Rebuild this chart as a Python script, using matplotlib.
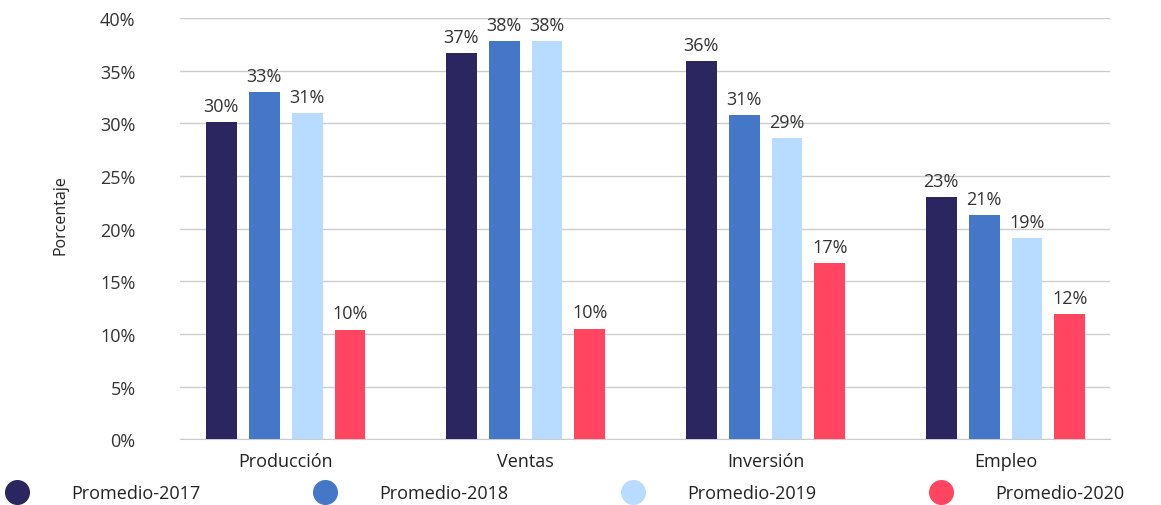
import numpy as np
import matplotlib.pyplot as plt
from matplotlib.ticker import FuncFormatter

plt.rcParams['font.family'] = ['Open Sans', 'DejaVu Sans']

## the data
categories = ['Producción', 'Ventas', 'Inversión', 'Empleo']
series_names = ['Promedio-2017', 'Promedio-2018', 'Promedio-2019', 'Promedio-2020']
prom_2017 = [30.1, 36.7, 35.9, 23.0]
prom_2018 = [33.0, 37.8, 30.8, 21.3]
prom_2019 = [31.0, 37.8, 28.6, 19.1]
prom_2020 = [10.4, 10.5, 16.7, 11.9]
colors = ['#2b2560', '#4577c9', '#b7dcff', '#ff4560']

series = [prom_2017, prom_2018, prom_2019, prom_2020]

fig = plt.figure(figsize=(11.61, 5.06), dpi=100)
ax = fig.add_axes([0.155, 0.130, 0.801, 0.832])

ind = np.arange(len(categories))
width = 0.129
step = 0.179

for i, (vals, name, c) in enumerate(zip(series, series_names, colors)):
    xs = ind + (i - 1.5) * step
    rects = ax.bar(xs, vals, width, color=c, label=name, zorder=3)
    for r, v in zip(rects, vals):
        ax.text(r.get_x() + r.get_width() / 2, v + 0.7, '%d%%' % round(v),
                ha='center', va='bottom', fontsize=13, color='#333333')

# axes and labels
ax.set_xlim(-0.44, 3.435)
ax.set_ylim(0, 40)
ax.set_yticks(np.arange(0, 41, 5))
ax.yaxis.set_major_formatter(FuncFormatter(lambda v, p: '%d%%' % v))
ax.grid(axis='y', color='#cccccc', linewidth=1, zorder=0)
for s in ['top', 'right', 'left']:
    ax.spines[s].set_visible(False)
ax.spines['bottom'].set_color('#cccccc')
ax.tick_params(axis='y', length=0, pad=32, labelsize=13, labelcolor='#333333')
ax.tick_params(axis='x', length=0, pad=9, labelsize=13, labelcolor='#222222')
ax.set_xticks(ind)
ax.set_xticklabels(categories)
ax.set_ylabel('Porcentaje', fontsize=11.5, color='#222222')
ax.yaxis.set_label_coords(-0.12, 0.534)

handles = [plt.Line2D([], [], marker='o', linestyle='', markersize=17, color=c)
           for c in colors]
fig.legend(handles, series_names, loc='center', bbox_to_anchor=(0.484, 0.024),
           ncol=4, frameon=False, fontsize=13, handletextpad=2.0,
           columnspacing=5.9, labelcolor='#222222')

fig.savefig('out.png', dpi=100)
